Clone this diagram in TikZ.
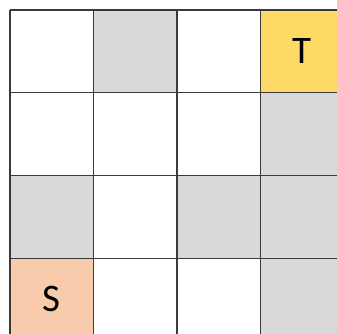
\documentclass[tikz,border=0pt]{standalone}
\usepackage{fontspec}
\setmainfont{Carlito}
\definecolor{cellgray}{HTML}{D9D9D9}
\definecolor{cellyellow}{HTML}{FFD966}
\definecolor{cellpeach}{HTML}{F8CBAD}
\definecolor{gridline}{HTML}{3A3A3A}
\begin{document}
\begin{tikzpicture}[x=1pt,y=-1pt,
  cell/.style={rectangle,anchor=north west,
    minimum width=83.5pt,minimum height=82.7pt,inner sep=0pt,outer sep=0pt,
    font=\fontsize{39}{39}\selectfont},
  grey/.style={cell,fill=cellgray},
  blank/.style={cell,fill=white},
  gridstyle/.style={draw=gridline,line width=1.1pt}]
\useasboundingbox (0,0) rectangle (337,333);
\clip (0,0) rectangle (337,333);
% row 0
\node[blank] (c00) at (10,10) {};
\node[grey]  (c01) at (93.5,10) {};
\node[blank] (c02) at (177,10) {};
\node[cell,fill=cellyellow] (c03) at (260.5,10) {T};
% row 1
\node[blank] (c10) at (10,92.7) {};
\node[blank] (c11) at (93.5,92.7) {};
\node[blank] (c12) at (177,92.7) {};
\node[grey]  (c13) at (260.5,92.7) {};
% row 2
\node[grey]  (c20) at (10,175.4) {};
\node[blank] (c21) at (93.5,175.4) {};
\node[grey]  (c22) at (177,175.4) {};
\node[grey]  (c23) at (260.5,175.4) {};
% row 3
\node[cell,fill=cellpeach] (c30) at (10,258.1) {S};
\node[blank] (c31) at (93.5,258.1) {};
\node[blank] (c32) at (177,258.1) {};
\node[grey]  (c33) at (260.5,258.1) {};
% grid lines
\foreach \x in {10,93.5,177,260.5}
  \draw[gridstyle] (\x,10) -- (\x,345);
\foreach \y in {10,92.7,175.4,258.1}
  \draw[gridstyle] (10,\y) -- (345,\y);
\end{tikzpicture}
\end{document}
